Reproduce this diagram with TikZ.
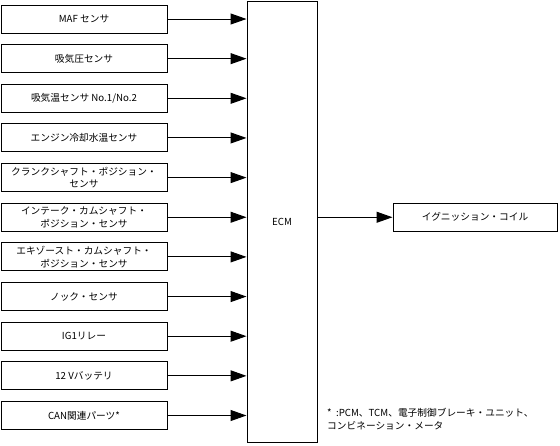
\documentclass[tikz,border=0pt]{standalone}
\usepackage{fontspec}
\setmainfont{Noto Sans CJK JP}
\usetikzlibrary{arrows.meta}
\begin{document}
\begin{tikzpicture}[x=1pt,y=-1pt,
  inbox/.style={draw,line width=1pt,minimum width=166pt,minimum height=28pt,inner sep=1pt,align=center,font=\fontsize{9.7}{12.8}\selectfont},
  arr/.style={line width=1pt,-{Triangle[length=16pt,width=11pt]}},
  lbl/.style={font=\fontsize{9.7}{12.8}\selectfont}]
\useasboundingbox (0,0) rectangle (560,445);
\node[draw,line width=1pt,minimum width=70pt,minimum height=441.5pt,inner sep=0pt,lbl] (ecm) at (282,222.2) {ECM};
\node[inbox] (in1) at (84,19) {MAF センサ};
\node[inbox] (in2) at (84,58.65) {吸気圧センサ};
\node[inbox] (in3) at (84,98.3) {吸気温センサ No.1/No.2};
\node[inbox] (in4) at (84,137.95) {エンジン冷却水温センサ};
\node[inbox] (in5) at (84,177.6) {クランクシャフト・ポジション・\\センサ};
\node[inbox] (in6) at (84,217.25) {インテーク・カムシャフト・\\ポジション・センサ};
\node[inbox] (in7) at (84,256.9) {エキゾースト・カムシャフト・\\ポジション・センサ};
\node[inbox] (in8) at (84,296.55) {ノック・センサ};
\node[inbox] (in9) at (84,336.2) {IG1リレー};
\node[inbox] (in10) at (84,375.85) {12 Vバッテリ};
\node[inbox] (in11) at (84,415.5) {CAN関連パーツ*};
\foreach \i in {1,...,11} {
  \draw[arr] (in\i.east) -- (in\i.east -| ecm.west);
}
\node[inbox,minimum width=164pt] (ign) at (475,217.25) {イグニッション・コイル};
\draw[arr] (ign.west -| ecm.east) -- (ign.west);
\node[lbl,anchor=west,align=left,inner sep=0pt] (note) at (327,419) {*\ \ :PCM、TCM、電子制御ブレーキ・ユニット、\\コンビネーション・メータ};
\end{tikzpicture}
\end{document}
